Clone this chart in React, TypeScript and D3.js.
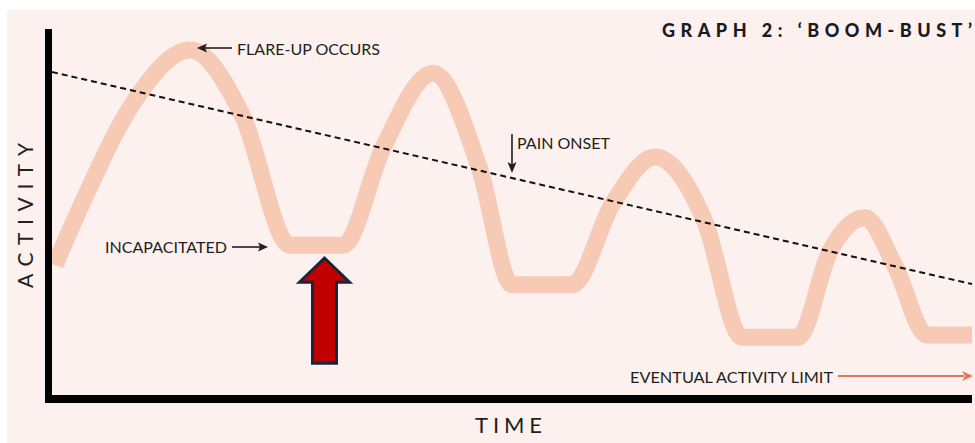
import React from "react";
import * as d3 from "d3";

// Activity curve (time 0..100, activity 0..100):
// peaks, trough corners and one point on each flank
const timeVals = [
  0.33, 3.59, 9.02, 15.0, 20.76, 25.87, 31.63, 35.98, 41.41, 46.52, 50.0,
  56.52, 60.98, 65.54, 70.98, 75.0, 81.09, 84.57, 88.37, 91.63, 95.11, 100,
];
const activityVals = [
  36.9, 55.1, 81.0, 94.4, 76.5, 42.2, 42.2, 68.2, 88.2, 62.3, 31.6,
  31.6, 53.5, 65.8, 48.4, 17.6, 17.6, 40.6, 49.5, 36.6, 18.2, 18.2,
];

// Pain onset threshold (dashed)
const painTime = [0, 100];
const painActivity = [88.5, 31.8];

const title = "GRAPH 2: \u2018BOOM-BUST\u2019";
const xLabel = "TIME";
const yLabel = "ACTIVITY";

const W = 975;
const H = 443;

export default function App() {
  const x = d3.scaleLinear().domain([0, 100]).range([52, 972]);
  const y = d3.scaleLinear().domain([0, 100]).range([403, 29]);

  const pts: [number, number][] = timeVals.map((t, i) => [t, activityVals[i]]);
  const line = d3
    .line<[number, number]>()
    .x((d) => x(d[0]))
    .y((d) => y(d[1]))
    .curve(d3.curveMonotoneX);

  const painPts: [number, number][] = painTime.map((t, i) => [t, painActivity[i]]);
  const straight = d3
    .line<[number, number]>()
    .x((d) => x(d[0]))
    .y((d) => y(d[1]));

  const font = "Lato, 'Open Sans', sans-serif";
  const ink = "#231f20";

  // red block arrow under the first trough
  const ax = (x(timeVals[5]) + x(timeVals[6])) / 2 + 8;
  const tipY = y(activityVals[5]) + 13;
  const headY = tipY + 24;
  const botY = tipY + 105;
  const arrowPts = [
    [ax, tipY],
    [ax + 25, headY],
    [ax + 12, headY],
    [ax + 12, botY],
    [ax - 12, botY],
    [ax - 12, headY],
    [ax - 25, headY],
  ]
    .map((p) => p.join(","))
    .join(" ");

  return (
    <svg
      width={W}
      height={H}
      style={{ position: "absolute", left: 0, top: 0, display: "block" }}
    >
      <defs>
        <clipPath id="plot">
          <rect x={52} y={20} width={925} height={376} />
        </clipPath>
      </defs>
      <rect x={0} y={0} width={W} height={H} fill="#ffffff" />
      <rect x={7} y={10} width={W - 7} height={H - 10} fill="#fcf1ee" />

      {/* activity curve */}
      <path
        d={line(pts) || ""}
        fill="none"
        stroke="#f7cab6"
        strokeWidth={17}
        clipPath="url(#plot)"
      />

      {/* pain onset dashed line */}
      <path
        d={straight(painPts) || ""}
        fill="none"
        stroke="#111"
        strokeWidth={2}
        strokeDasharray="6,4"
      />

      {/* axes */}
      <rect x={45} y={29} width={7} height={374} fill="#000" />
      <rect x={45} y={395} width={927} height={8} fill="#000" />

      {/* title */}
      <text
        x={662}
        y={37}
        fontFamily={font}
        fontWeight={900}
        fontSize={18}
        fill="#1b1b1f"
        textLength={310}
        lengthAdjust="spacing"
      >
        {title}
      </text>

      {/* axis labels */}
      <text
        x={475}
        y={433}
        fontFamily={font}
        fontSize={22}
        fill={ink}
        textLength={67}
        lengthAdjust="spacing"
      >
        {xLabel}
      </text>
      <text
        transform="translate(33,288) rotate(-90)"
        fontFamily={font}
        fontSize={21}
        fill={ink}
        textLength={145}
        lengthAdjust="spacing"
      >
        {yLabel}
      </text>

      {/* FLARE-UP OCCURS */}
      <text x={237} y={55} fontFamily={font} fontSize={16} fill={ink} textLength={143} lengthAdjust="spacingAndGlyphs">
        FLARE-UP OCCURS
      </text>
      <line x1={232} y1={48} x2={204} y2={48} stroke={ink} strokeWidth={1.6} />
      <polygon points="197,48 207,43.5 205,48 207,52.5" fill={ink} />

      {/* INCAPACITATED */}
      <text x={105} y={253} fontFamily={font} fontSize={16} fill={ink} textLength={122} lengthAdjust="spacingAndGlyphs">
        INCAPACITATED
      </text>
      <line x1={232} y1={247} x2={261} y2={247} stroke={ink} strokeWidth={1.6} />
      <polygon points="268,247 258,242.5 260,247 258,251.5" fill={ink} />

      {/* PAIN ONSET */}
      <text x={517} y={149} fontFamily={font} fontSize={16} fill={ink} textLength={93} lengthAdjust="spacingAndGlyphs">
        PAIN ONSET
      </text>
      <line x1={512} y1={134} x2={512} y2={165} stroke={ink} strokeWidth={1.6} />
      <polygon points="512,173 507.5,162 512,164.5 516.5,162" fill={ink} />

      {/* EVENTUAL ACTIVITY LIMIT */}
      <text x={630} y={383} fontFamily={font} fontSize={16} fill={ink} textLength={203} lengthAdjust="spacingAndGlyphs">
        EVENTUAL ACTIVITY LIMIT
      </text>
      <line x1={838} y1={376} x2={964} y2={376} stroke="#e0795a" strokeWidth={1.8} />
      <polygon points="973,376 962,371 965,376 962,381" fill="#e0795a" />

      {/* red block arrow */}
      <polygon
        points={arrowPts}
        fill="#c00000"
        stroke="#14283a"
        strokeWidth={3}
        strokeLinejoin="miter"
      />
    </svg>
  );
}
